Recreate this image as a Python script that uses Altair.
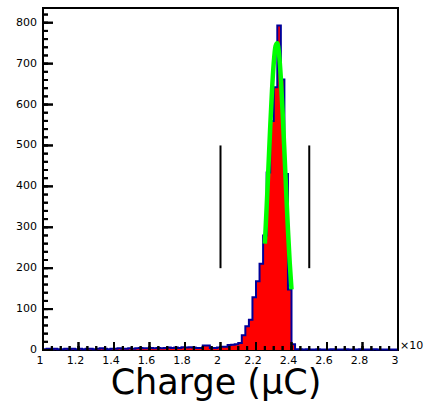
import altair as alt
import pandas as pd

# ---- data ----
bin_lo = [round(1 + 0.02 * i, 2) for i in range(100)]
counts = [
    2, 3, 2, 3, 2, 2, 3, 2, 3, 2,
    3, 2, 3, 3, 2, 3, 4, 3, 2, 3,
    3, 4, 3, 3, 4, 3, 4, 5, 4, 4,
    5, 4, 5, 4, 5, 6, 5, 6, 5, 7,
    6, 7, 6, 5, 5, 11, 11, 5, 5, 6,
    8, 8, 12, 13, 14, 17, 36, 58, 74, 129,
    168, 211, 280, 434, 560, 642, 793, 661, 430, 148,
    14, 2, 2, 1, 2, 1, 1, 2, 1, 1,
    1, 2, 1, 1, 1, 2, 1, 1, 1, 2,
    1, 1, 1, 2, 1, 1, 1, 1, 1, 1,
]
fit_x = [2.25, 2.26, 2.27, 2.28, 2.29, 2.30, 2.31, 2.32,
         2.33, 2.34, 2.35, 2.36, 2.37, 2.38, 2.39, 2.40]
fit_y = [260, 349, 446, 544, 633, 702, 743, 750,
         723, 664, 581, 486, 387, 294, 213, 148]
cut_x = [2.0, 2.5]
cut_lo = [200, 200]
cut_hi = [500, 500]

x_major = [1, 1.2, 1.4, 1.6, 1.8, 2, 2.2, 2.4, 2.6, 2.8, 3]
x_minor = [round(1 + 0.05 * k, 2) for k in range(41)]
y_major = [0, 100, 200, 300, 400, 500, 600, 700, 800]
y_minor = [20 * k for k in range(42)]
x_title = "Charge (μC)"
x_exponent = "×10"

W, H = 355, 342
X0, X1 = 1, 3
Y0, Y1 = 0, 836
FONT = "DejaVu Sans"
xs = alt.Scale(domain=[X0, X1], nice=False, zero=False)
ys = alt.Scale(domain=[Y0, Y1], nice=False)


# pixel lengths converted to data units
def px_x(p):
    return p * (X1 - X0) / W


def px_y(p):
    return p * (Y1 - Y0) / H


hist_df = pd.DataFrame({"edge": bin_lo + [3.0], "count": counts + [counts[-1]]})
fit_df = pd.DataFrame({"x": fit_x, "y": fit_y})

# segments: cut lines + axis ticks (all as line segments)
seg_x1, seg_x2, seg_y1, seg_y2 = [], [], [], []
for cx, lo, hi in zip(cut_x, cut_lo, cut_hi):
    seg_x1.append(cx); seg_x2.append(cx); seg_y1.append(lo); seg_y2.append(hi)
for vals, ln in ((x_major, 8), (x_minor, 4)):
    for v in vals:
        seg_x1.append(v); seg_x2.append(v); seg_y1.append(Y0); seg_y2.append(px_y(ln))
for vals, ln in ((y_major, 10), (y_minor, 5)):
    for v in vals:
        seg_x1.append(X0); seg_x2.append(X0 + px_x(ln)); seg_y1.append(v); seg_y2.append(v)
seg_df = pd.DataFrame({"sx1": seg_x1, "sx2": seg_x2, "sy1": seg_y1, "sy2": seg_y2})

# same ticks as thin rectangles (second drawing of the ticks)
rx1, rx2, ry1, ry2 = [], [], [], []
for vals, ln in ((x_major, 8), (x_minor, 4)):
    for v in vals:
        rx1.append(v - px_x(1)); rx2.append(v + px_x(1)); ry1.append(Y0); ry2.append(px_y(ln))
for vals, ln in ((y_major, 10), (y_minor, 5)):
    for v in vals:
        rx1.append(X0); rx2.append(X0 + px_x(ln)); ry1.append(v - px_y(1)); ry2.append(v + px_y(1))
rect_df = pd.DataFrame({"rx1": rx1, "rx2": rx2, "ry1": ry1, "ry2": ry2})

xlab_df = pd.DataFrame({"lx": x_major, "ly": [Y0] * len(x_major)})
ylab_df = pd.DataFrame({"my": y_major, "mx": [X0] * len(y_major)})


def X(field):
    return alt.X(field, scale=xs, axis=None)


def Y(field):
    return alt.Y(field, scale=ys, axis=None)


area = alt.Chart(hist_df).mark_area(interpolate="step-after", color="#ff0000").encode(
    x=X("edge:Q"), y=Y("count:Q"))
outline = alt.Chart(hist_df).mark_line(
    interpolate="step-after", color="#000099", strokeWidth=2
).encode(x=X("edge:Q"), y=Y("count:Q"))
fit = alt.Chart(fit_df).mark_line(
    color="#00ff00", strokeWidth=4.5, interpolate="monotone"
).encode(x=X("x:Q"), y=Y("y:Q"))

xlabels = alt.Chart(xlab_df).mark_text(
    font=FONT, fontSize=11, color="black", align="center", baseline="top",
    dx=-3, dy=5,
).encode(x=X("lx:Q"), y=Y("ly:Q"), text=alt.Text("lx:Q", format="~g"))
ylabels = alt.Chart(ylab_df).mark_text(
    font=FONT, fontSize=11, color="black", align="right", baseline="middle",
    dx=-6,
).encode(x=X("mx:Q"), y=Y("my:Q"), text=alt.Text("my:Q", format="d"))

title_text = alt.Chart(pd.DataFrame({"t": [x_title]})).mark_text(
    font=FONT, fontSize=35, color="black", align="center", baseline="alphabetic"
).encode(text="t:N", x=alt.value(173), y=alt.value(H + 44))
exp_text = alt.Chart(pd.DataFrame({"t": [x_exponent]})).mark_text(
    align="left", baseline="alphabetic", font=FONT, fontSize=11, color="black"
).encode(text="t:N", x=alt.value(357), y=alt.value(341))

tick_rects = alt.Chart(rect_df).mark_rect(color="black").encode(
    x=X("rx1:Q"), x2="rx2:Q", y=Y("ry1:Q"), y2="ry2:Q")
segments = alt.Chart(seg_df).mark_rule(color="black", strokeWidth=2).encode(
    x=X("sx1:Q"), x2="sx2:Q", y=Y("sy1:Q"), y2="sy2:Q")

chart = alt.layer(
    area, outline, fit,
    xlabels, ylabels, title_text, exp_text,
    tick_rects, segments,
).properties(
    width=W, height=H,
    padding={"left": 43, "top": 8, "right": 27, "bottom": 61},
    autosize=alt.AutoSizeParams(type="none"),
).configure_view(stroke="black", strokeWidth=2)

chart.save("out.html", embed_options={"renderer": "svg", "actions": False})
